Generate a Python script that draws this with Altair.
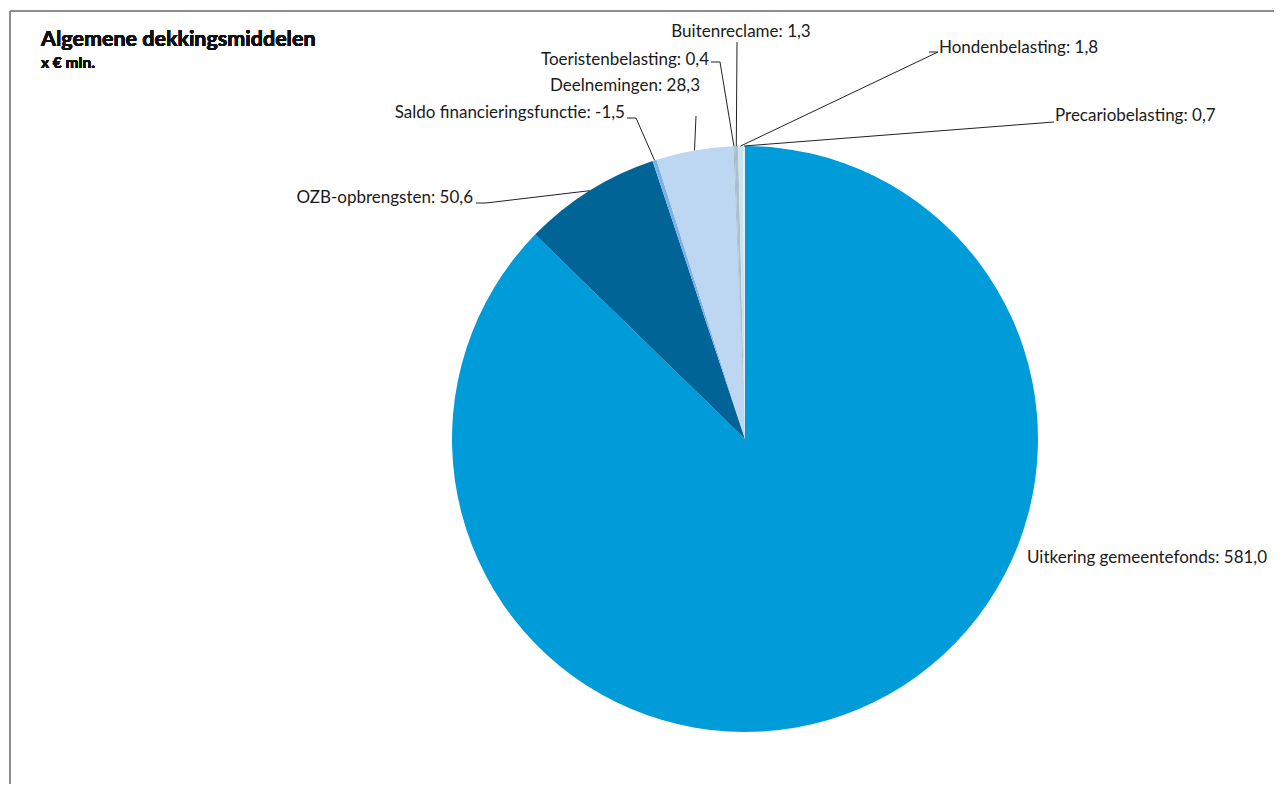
import math
import altair as alt
import pandas as pd

# ---- data ----
categories = [
    "Uitkering gemeentefonds",
    "OZB-opbrengsten",
    "Saldo financieringsfunctie",
    "Deelnemingen",
    "Toeristenbelasting",
    "Buitenreclame",
    "Hondenbelasting",
    "Precariobelasting",
]
values = [581.0, 50.6, -1.5, 28.3, 0.4, 1.3, 1.8, 0.7]
colors = ["#009cd9", "#006496", "#7fb0e3", "#bdd6f1", "#9fb8c6", "#a9c1cf", "#cfe3ec", "#e6f1f7"]

# ---- layout (pixels inside the view) ----
CX, CY, R = 737, 431, 293
FONT = "Lato"
# label anchor (x, y), alignment
label_x = [1019, 465, 617, 692, 701, 733, 931, 1047]
label_y = [550, 190, 105, 78, 52, 24, 40, 108]
label_align = ["left", "right", "right", "right", "right", "center", "left", "left"]
# leader line: list of intermediate points (elbow, end) or None
leaders = [
    None,
    [(478, 195), (468, 195)],
    [(628, 110), (619, 110)],
    [(688, 108)],
    [(712, 54), (703, 54)],
    [(729, 34)],
    [(930, 44), (921, 44)],
    [(1046, 114)],
]

total = sum(abs(v) for v in values)
rows = []
cum = 0.0
lead_rows = []
for i, (c, v) in enumerate(zip(categories, values)):
    a = abs(v)
    mid = (cum + a / 2) / total * 2 * math.pi
    cum += a
    txt = f"{c}: {v:.1f}".replace(".", ",")
    rows.append(dict(idx=i, name=c, val=v, absval=a, label=txt,
                     lx=label_x[i], ly=label_y[i], align=label_align[i]))
    if leaders[i]:
        ex = CX + R * math.sin(mid)
        ey = CY - R * math.cos(mid)
        pts = [(ex, ey)] + leaders[i]
        for k, (px, py) in enumerate(pts):
            lead_rows.append(dict(seg=c, ord=k, px=px, py=py))

df = pd.DataFrame(rows)
ldf = pd.DataFrame(lead_rows)

pie = alt.Chart(df).mark_arc(outerRadius=R).encode(
    theta=alt.Theta("absval:Q", stack=True),
    color=alt.Color("name:N", scale=alt.Scale(domain=categories, range=colors), legend=None),
    order=alt.Order("idx:Q"),
    x=alt.value(CX),
    y=alt.value(CY),
)

lines = alt.Chart(ldf).mark_line(color="#222222", strokeWidth=1).encode(
    x=alt.X("px:Q", scale=None, axis=None),
    y=alt.Y("py:Q", scale=None, axis=None),
    detail="seg:N",
    order="ord:Q",
)

def text_layer(al):
    return alt.Chart(df).transform_filter(alt.datum.align == al).mark_text(
        align=al, baseline="middle", font=FONT, fontSize=17, color="#1a1a1a"
    ).encode(
        x=alt.X("lx:Q", scale=None, axis=None),
        y=alt.Y("ly:Q", scale=None, axis=None),
        text="label:N",
    )

labels = text_layer("left") + text_layer("right") + text_layer("center")

border = alt.Chart(df).mark_rule(color="#8c8c8c", strokeWidth=1.5).encode(
    x=alt.value(2), x2=alt.value(1300), y=alt.value(3)
) + alt.Chart(df).mark_rule(color="#8c8c8c", strokeWidth=1.5).encode(
    x=alt.value(2), y=alt.value(3), y2=alt.value(800)
)

title = alt.Chart(df).mark_text(
    align="left", baseline="middle", font=FONT, fontSize=21.5, fontWeight="bold", color="#111111"
).encode(x=alt.value(33), y=alt.value(32), text=alt.value("Algemene dekkingsmiddelen"))
subtitle = alt.Chart(df).mark_text(
    align="left", baseline="middle", font=FONT, fontSize=15.5, fontWeight="bold", color="#111111"
).encode(x=alt.value(33), y=alt.value(55), text=alt.value("x € mln."))

chart = alt.layer(border, pie, lines, labels, title, subtitle).properties(
    width=1266, height=776, autosize=alt.AutoSizeParams(type="none"), padding=0
).configure_view(stroke=None)

chart.save("out.html", embed_options={"renderer": "svg", "actions": False})
